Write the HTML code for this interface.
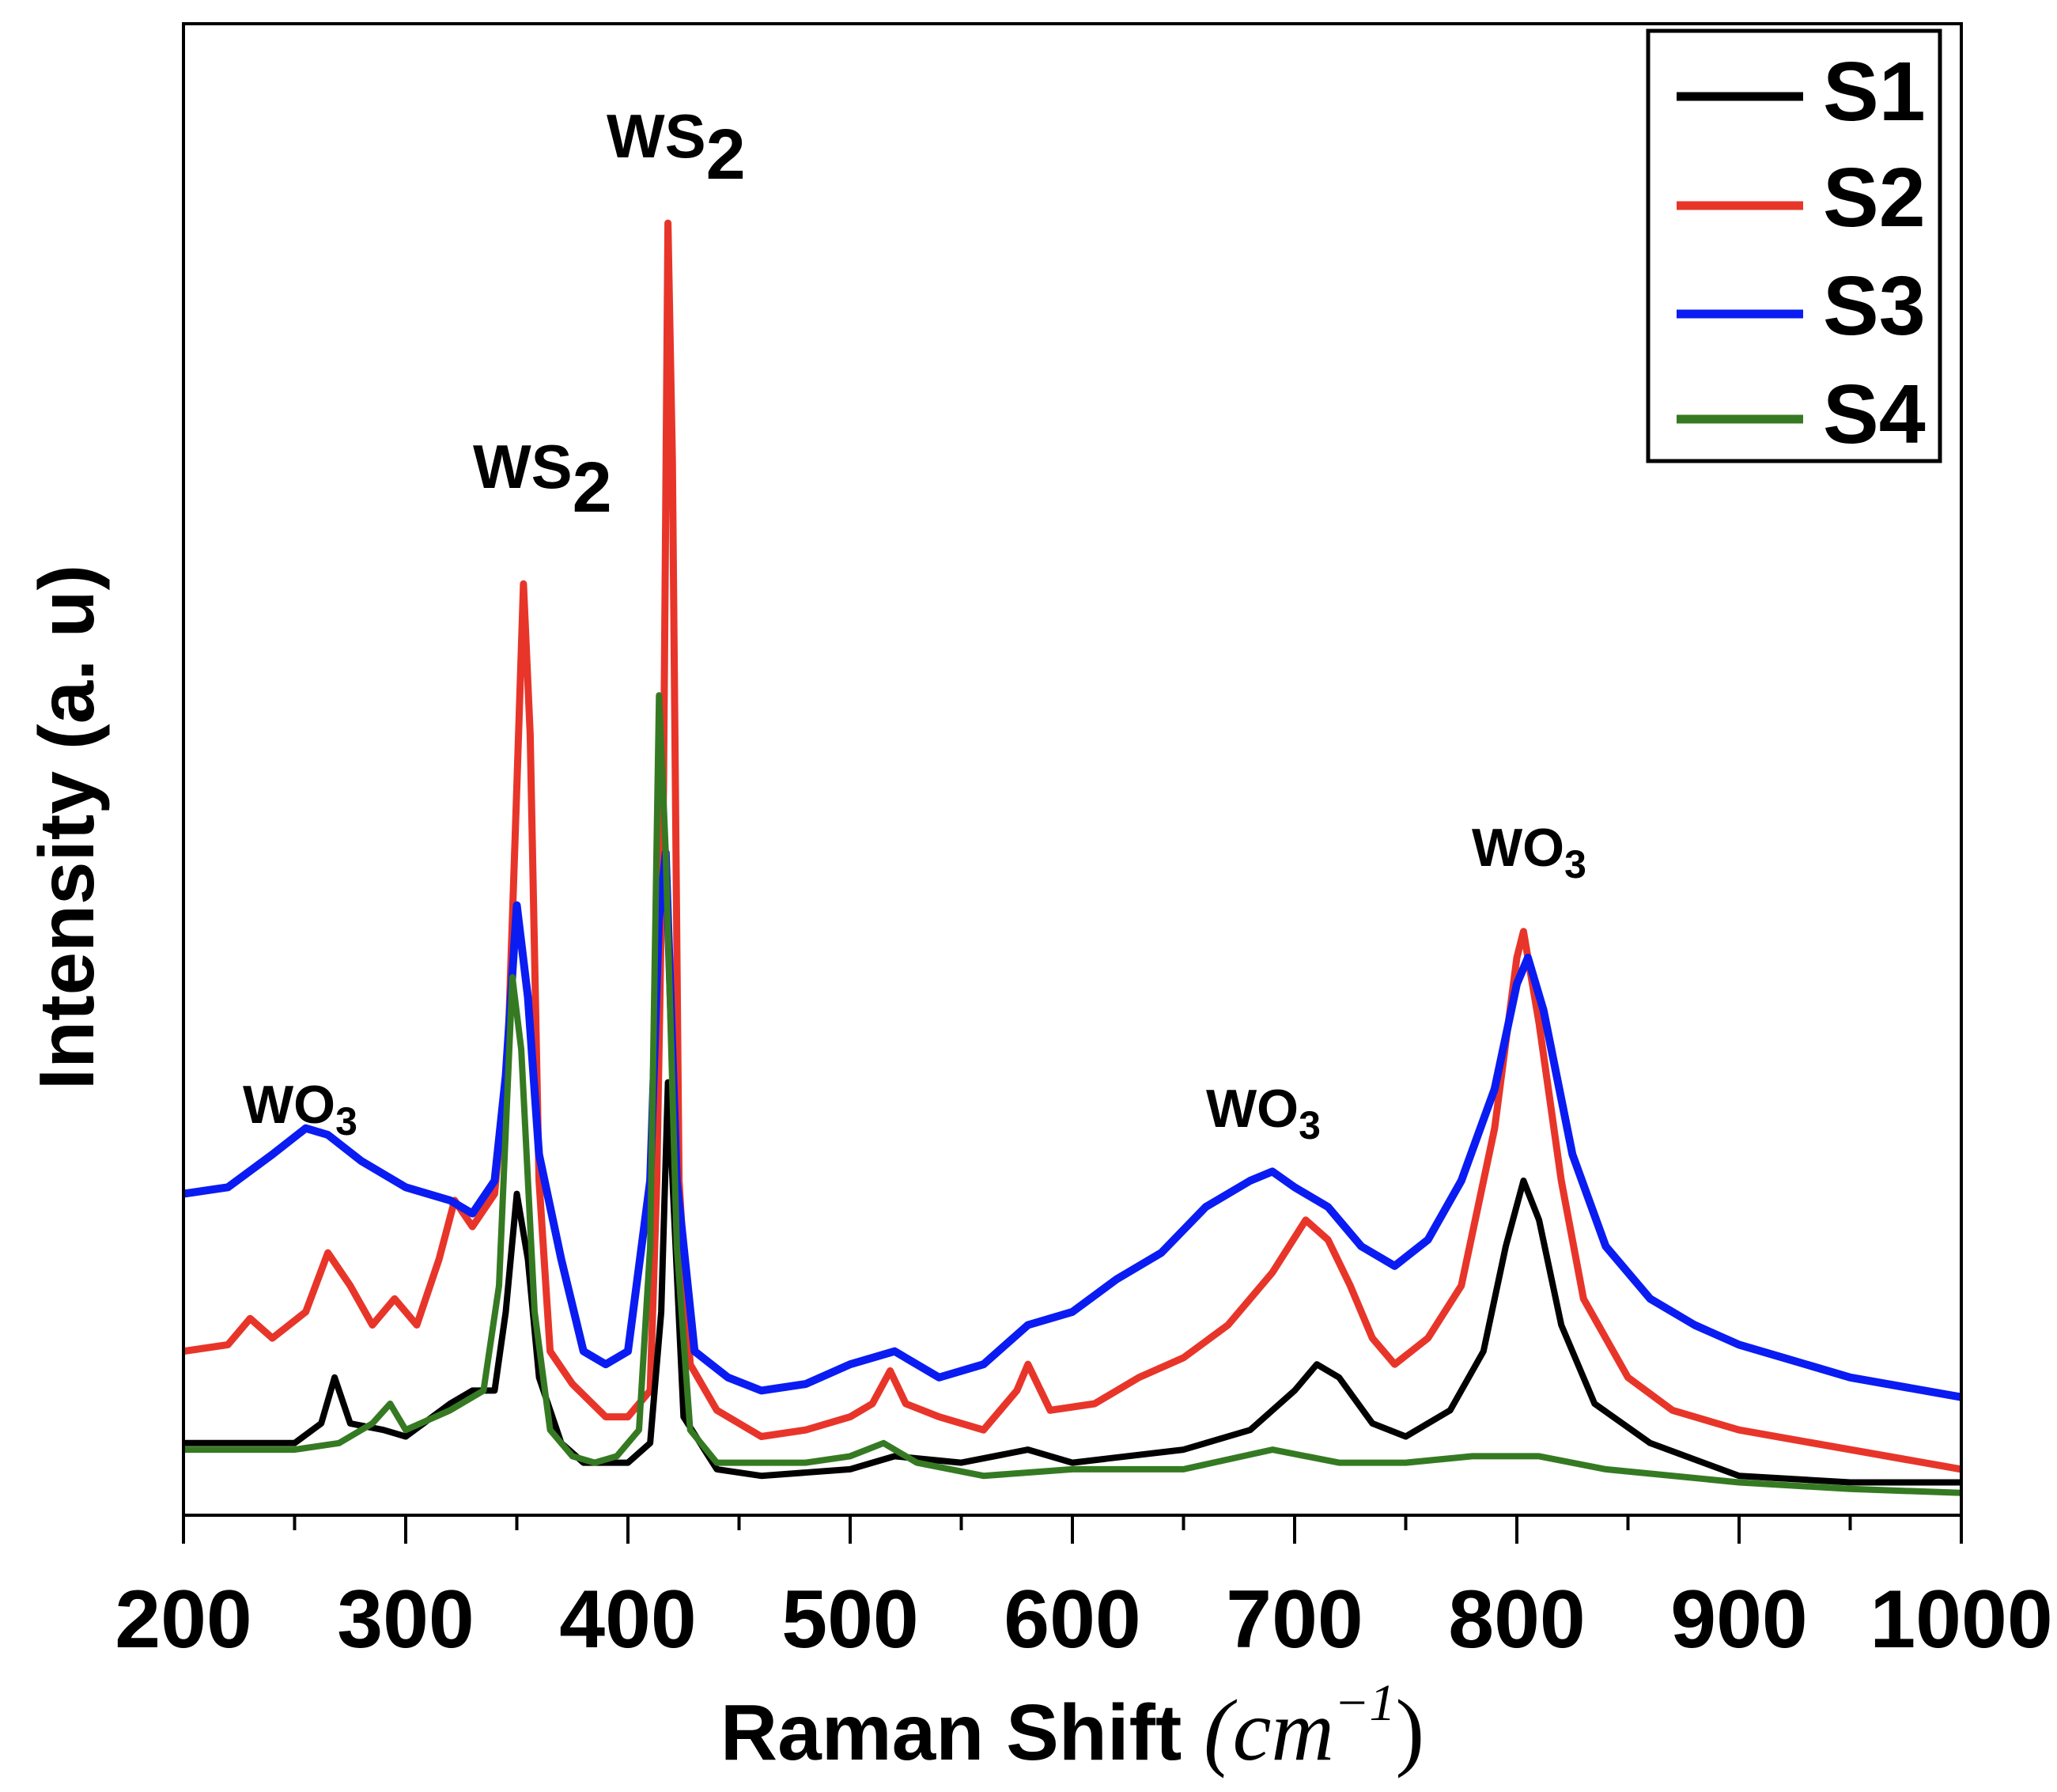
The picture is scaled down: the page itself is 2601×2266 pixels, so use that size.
<!DOCTYPE html>
<html><head><meta charset="utf-8"><style>
html,body{margin:0;padding:0;background:#fff;}
svg{display:block;font-family:"Liberation Sans",Arial,sans-serif;}
</style></head><body>
<svg id="chart" width="2601" height="2266" viewBox="0 0 2601 2266" xmlns="http://www.w3.org/2000/svg">
<g id="plot"></g>
<rect x="232" y="30" width="2248" height="1886" fill="none" stroke="#000" stroke-width="4"/>
<g id="xticks"></g>
<text x="1356" y="2225" text-anchor="middle" font-size="100" font-weight="bold">Raman Shift <tspan font-family="Liberation Serif,serif" font-style="italic" font-weight="normal" font-size="110">(cm</tspan><tspan font-family="Liberation Serif,serif" font-style="italic" font-weight="normal" font-size="66" dy="-50">−1</tspan><tspan font-family="Liberation Serif,serif" font-weight="normal" font-size="110" dy="50">)</tspan></text>
<text transform="translate(118,1046) rotate(-90)" text-anchor="middle" font-size="98" font-weight="bold">Intensity (a. u)</text>
<g font-weight="bold" font-size="78">
<text x="598" y="617">WS<tspan font-size="90" dy="30">2</tspan></text>
<text x="767" y="199">WS<tspan font-size="90" dy="27">2</tspan></text>
<text x="307" y="1420" font-size="68">WO<tspan font-size="50" dy="15">3</tspan></text>
<text x="1525" y="1425" font-size="68">WO<tspan font-size="50" dy="15">3</tspan></text>
<text x="1861" y="1095" font-size="68">WO<tspan font-size="50" dy="15">3</tspan></text>
</g>
<g>
<rect x="2084" y="39" width="369" height="544" fill="#fff" stroke="#000" stroke-width="5"/>
<line x1="2120" y1="122" x2="2280" y2="122" stroke="#000" stroke-width="11"/>
<text x="2305" y="152" font-size="106" font-weight="bold">S1</text>
<line x1="2120" y1="260" x2="2280" y2="260" stroke="#e8352a" stroke-width="11"/>
<text x="2305" y="286" font-size="106" font-weight="bold">S2</text>
<line x1="2120" y1="397" x2="2280" y2="397" stroke="#0a1cf2" stroke-width="11"/>
<text x="2305" y="423" font-size="106" font-weight="bold">S3</text>
<line x1="2120" y1="530" x2="2280" y2="530" stroke="#357a22" stroke-width="11"/>
<text x="2305" y="560" font-size="106" font-weight="bold">S4</text>
</g>
</svg>
<script>
const xTicks=[200,300,400,500,600,700,800,900,1000];
const xMinor=[250,350,450,550,650,750,850,950];
const s1X=[200,250,262,268,275,290,300,320,330,340,345,350,355,360,370,380,400,410,415,418,425,440,460,500,520,550,580,600,650,680,700,710,720,735,750,770,785,795,803,810,820,835,860,900,950,1000];
const s1Y=[55,55,70,105,70,65,60,85,95,95,155,245,195,105,55,40,40,55,155,330,75,35,30,35,45,40,50,40,50,65,95,115,105,70,60,80,125,205,255,225,145,85,55,30,25,25];
const s2X=[200,220,230,240,255,265,275,285,295,305,315,322,330,340,346,350,353,356,360,365,375,390,400,410,413,416,418,420,423,428,440,460,480,500,510,518,525,540,560,575,580,590,610,630,650,670,690,705,715,725,735,745,760,775,790,800,803,810,820,830,850,870,900,950,1000];
const s2Y=[125,130,150,135,155,200,175,145,165,145,195,240,220,245,355,555,710,595,255,125,100,75,75,95,255,555,985,805,255,115,80,60,65,75,85,110,85,75,65,95,115,80,85,105,120,145,185,225,210,175,135,115,135,175,295,425,445,375,255,165,105,80,65,50,35];
const s3X=[200,220,240,255,265,280,300,320,330,340,345,350,355,360,370,380,390,400,410,414,417,422,430,445,460,480,500,520,540,560,580,600,620,640,660,680,690,700,715,730,745,760,775,790,800,805,812,825,840,860,880,900,920,950,1000];
const s3Y=[245,250,275,295,290,270,250,240,230,255,335,465,395,275,195,125,115,125,255,455,505,255,125,105,95,100,115,125,105,115,145,155,180,200,235,255,262,250,235,205,190,210,255,325,405,425,385,275,205,165,145,130,120,105,90];
const s4X=[200,250,270,285,293,300,320,335,342,348,352,358,365,375,385,395,405,410,414,417,422,428,440,480,500,515,530,560,600,650,690,720,750,780,810,840,900,950,1000];
const s4Y=[50,50,55,70,85,65,80,95,175,410,355,155,65,45,40,45,65,205,625,505,205,65,40,40,45,55,40,30,35,35,50,40,40,45,45,35,25,20,17];
const L=232,R=2480,T=30,B=1916,YMAX=1137;
const xs=v=>L+(v-200)/800*(R-L);
const ys=v=>B-v/YMAX*(B-T);
const NS="http://www.w3.org/2000/svg";
const plot=document.getElementById('plot');
const series=[["s2",s2X,s2Y,"#e8352a",9],["s3",s3X,s3Y,"#0a1cf2",10],["s1",s1X,s1Y,"#000",8],["s4",s4X,s4Y,"#357a22",8]];
series.forEach(([n,X,Y,c,w])=>{
  const p=document.createElementNS(NS,'path');
  p.setAttribute('d',X.map((x,i)=>(i?'L':'M')+xs(x).toFixed(1)+','+ys(Y[i]).toFixed(1)).join(''));
  p.setAttribute('fill','none');p.setAttribute('stroke',c);p.setAttribute('stroke-width',w);p.setAttribute('stroke-linejoin','round');
  
  
  plot.appendChild(p);
});
const xt=document.getElementById('xticks');
xTicks.forEach(t=>{
  const l=document.createElementNS(NS,'line');
  l.setAttribute('x1',xs(t));l.setAttribute('x2',xs(t));l.setAttribute('y1',B);l.setAttribute('y2',B+36);
  l.setAttribute('stroke','#000');l.setAttribute('stroke-width',4);
  
  
  xt.appendChild(l);
  const tx=document.createElementNS(NS,'text');
  tx.setAttribute('x',xs(t));tx.setAttribute('y',2083);tx.setAttribute('text-anchor','middle');
  tx.setAttribute('font-size',104);tx.setAttribute('font-weight','bold');
  tx.textContent=t;
  
  
  xt.appendChild(tx);
});
xMinor.forEach(t=>{
  const l=document.createElementNS(NS,'line');
  l.setAttribute('x1',xs(t));l.setAttribute('x2',xs(t));l.setAttribute('y1',B);l.setAttribute('y2',B+19);
  l.setAttribute('stroke','#000');l.setAttribute('stroke-width',4);
  
  
  xt.appendChild(l);
});
</script>
</body></html>
